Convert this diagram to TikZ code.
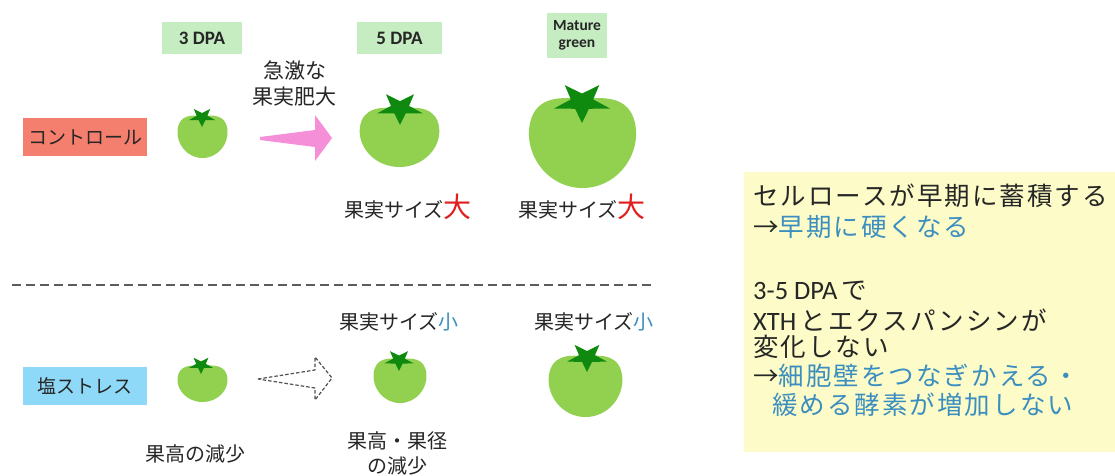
\documentclass[tikz,border=0pt]{standalone}
\usepackage{fontspec}
\setmainfont{Noto Sans CJK JP}
\newfontfamily\latinfont{Carlito}
\newfontfamily\notefont[LetterSpace=8]{Noto Sans CJK JP}

\definecolor{ink}{HTML}{262626}
\definecolor{fruitgreen}{HTML}{92D050}
\definecolor{calyxgreen}{HTML}{0F8A0F}
\definecolor{stagegreen}{HTML}{C6ECC2}
\definecolor{ctrlred}{HTML}{F47F6E}
\definecolor{saltblue}{HTML}{8FD9F8}
\definecolor{growpink}{HTML}{F48FD8}
\definecolor{notebg}{HTML}{FDFCC8}
\definecolor{noteblue}{HTML}{3B8EC0}
\definecolor{bigred}{HTML}{E02020}

% tomato: centre x, centre y, width, height, calyx dx, calyx dy, calyx radius
\newcommand{\drawtomato}[7]{%
  \begin{scope}[shift={(#1,#2)}]
    \fill[fruitgreen, xscale=#3/2, yscale=#4/2]
      (0,-0.95) .. controls (0.45,-1.02) and (0.92,-1.0) .. (0.98,-0.3)
      .. controls (1.03,0.35) and (0.6,1.0) .. (0,1)
      .. controls (-0.6,1.0) and (-1.03,0.35) .. (-0.98,-0.3)
      .. controls (-0.92,-1.0) and (-0.45,-1.02) .. (0,-0.95) -- cycle;
    \fill[calyxgreen, shift={(#5,#6)}, xscale=1.4*#7, yscale=#7]
      (90:1) -- (126:0.4) -- (162:1) -- (198:0.4) -- (234:1) -- (270:0.4)
      -- (306:1) -- (342:0.4) -- (18:1) -- (54:0.4) -- cycle;
  \end{scope}}

\begin{document}
\begin{tikzpicture}[x=1pt, y=-1pt,
  txt/.style={inner sep=0pt, text=ink},
  stagebox/.style={fill=stagegreen, inner sep=0pt, text=ink,
    font=\latinfont\bfseries\fontsize{19}{21}\selectfont},
  rowbox/.style={minimum width=124pt, minimum height=38pt, inner sep=0pt,
    text=ink, font=\fontsize{19}{19}\selectfont},
  notetxt/.style={anchor=west, inner sep=0pt, text=ink,
    font=\notefont\fontsize{25.5}{25.5}\selectfont},
  notelatin/.style={},
  divider/.style={draw=ink!75, line width=1.3pt, dash pattern=on 9pt off 5pt}]

\useasboundingbox (0,0) rectangle (1115,475);
\fill[white] (0,0) rectangle (1115,475);

% stage headers
\node[stagebox, minimum width=80pt, minimum height=32pt] (s3) at (202,38) {3 DPA};
\node[stagebox, minimum width=85pt, minimum height=32pt] (s5) at (399.5,38) {5 DPA};
\node[stagebox, minimum width=60pt, minimum height=45pt, align=center,
  font=\latinfont\bfseries\fontsize{15.5}{17}\selectfont] (smg) at (577,35.5) {Mature\\green};

% row labels
\node[rowbox, fill=ctrlred] (ctrl) at (85,137) {コントロール};
\node[rowbox, fill=saltblue] (salt) at (85,386) {塩ストレス};

% control fruits
\drawtomato{202.5}{136.5}{51}{43}{-0.5}{-19.5}{10}
\drawtomato{399.5}{137}{81}{60}{0.5}{-29}{17}
\drawtomato{582.5}{142.5}{109}{91}{-0.5}{-40.5}{21}

% salt-stress fruits
\drawtomato{202.5}{383.5}{51}{37}{-1.5}{-18.5}{9}
\drawtomato{400}{380.5}{54}{45}{-1}{-20.5}{11}
\drawtomato{585.5}{386}{75}{62}{1.5}{-29}{15}

% rapid growth arrow
\coordinate (pktail) at (260,138.5);
\fill[growpink] (pktail) ++(0,-1.5) -- ++(55,-7) -- ++(0,-15) -- ++(17,23)
  -- ++(-17,23) -- ++(0,-14) -- ++(-55,-7) -- cycle;
\node[txt, font=\fontsize{21}{26}\selectfont, align=center] (rapid) at (294.5,84) {急激な\\果実肥大};

% weak growth arrow
\coordinate (dtail) at (258,379);
\draw[ink!80, line width=1.2pt, dash pattern=on 3.5pt off 2pt, line join=round]
  (dtail) -- ++(57,-9) -- ++(0,-13) -- ++(17,21) -- ++(-17,22) -- ++(0,-12) -- cycle;

% separator
\coordinate (divL) at (12,285);
\coordinate (divR) at (652,285);
\draw[divider] (divL) -- (divR);

% size labels
\node[txt, anchor=base, font=\fontsize{20}{20}\selectfont] (big5) at (408,217.5)
  {果実サイズ\textcolor{bigred}{\fontsize{28}{28}\selectfont 大}};
\node[txt, anchor=base, font=\fontsize{20}{20}\selectfont] (bigmg) at (582,217.5)
  {果実サイズ\textcolor{bigred}{\fontsize{28}{28}\selectfont 大}};
\node[txt, font=\fontsize{20}{20}\selectfont] (small5) at (399,322)
  {果実サイズ\textcolor{noteblue}{小}};
\node[txt, font=\fontsize{20}{20}\selectfont] (smallmg) at (594,322)
  {果実サイズ\textcolor{noteblue}{小}};
\node[txt, font=\fontsize{20}{20}\selectfont] (hdec) at (195,454) {果高の減少};
\node[txt, font=\fontsize{20}{25}\selectfont, align=center] (hwdec) at (397.5,453.5)
  {果高・果径\\の減少};

% summary note
\path[fill=notebg] (744,172) rectangle (1115,452);
\node[notetxt] (n1) at (753,196) {セルロースが早期に蓄積する};
\node[notetxt] (n2) at (753,227) {→\textcolor{noteblue}{早期に硬くなる}};
\node[notetxt] (n3) at (753,291) {{\latinfont\fontsize{26.5}{26.5}\selectfont 3-5 DPA}\,で};
\node[notetxt] (n4) at (753,320) {{\latinfont\fontsize{26.5}{26.5}\selectfont XTH}\,とエクスパンシンが};
\node[notetxt] (n5) at (753,347) {変化しない};
\node[notetxt] (n6) at (753,376) {→\textcolor{noteblue}{細胞壁をつなぎかえる・}};
\node[notetxt] (n7) at (772,405) {\textcolor{noteblue}{緩める酵素が増加しない}};

\end{tikzpicture}
\end{document}
